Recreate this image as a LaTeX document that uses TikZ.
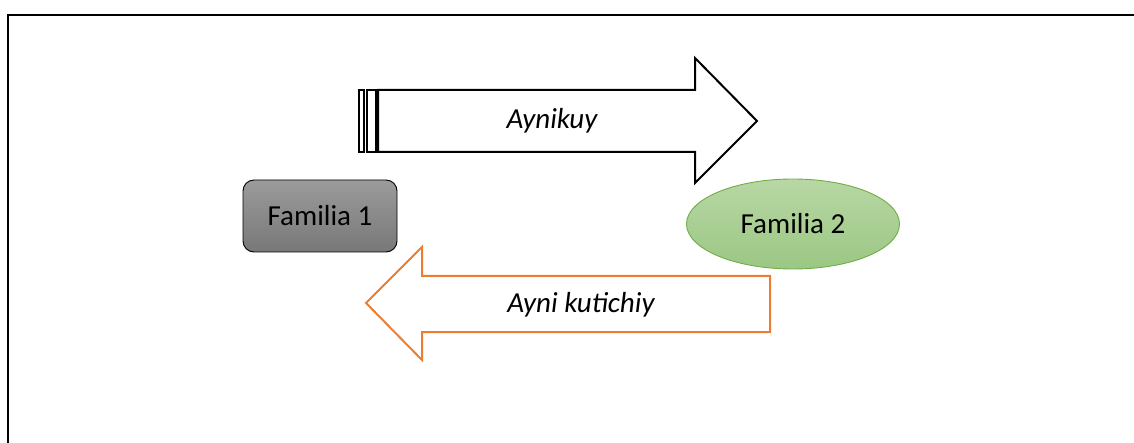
\documentclass[tikz,border=0pt]{standalone}
\usepackage{fontspec}
\setmainfont{Carlito}
\usetikzlibrary{shapes.geometric}
\definecolor{famgrayA}{HTML}{9B9B9B}
\definecolor{famgrayB}{HTML}{787878}
\definecolor{famgreenA}{HTML}{B8D7A4}
\definecolor{famgreenB}{HTML}{9BC784}
\definecolor{famgreenL}{HTML}{70AD47}
\definecolor{backorange}{HTML}{ED7D31}
\tikzset{
  label text/.style={font=\fontsize{29}{34}\selectfont, text=black, inner sep=0pt},
  arrow label/.style={label text, font=\fontsize{29}{34}\selectfont\itshape},
  outline/.style={line width=2pt, line join=miter},
}
\begin{document}
\begin{tikzpicture}[x=1pt,y=-1pt]
  \useasboundingbox (0,0) rectangle (1134,443);
  % frame (top and left edges)
  \draw[line width=2.4pt] (8,443) -- (8,15) -- (1134,15);

  % forward striped arrow
  \draw[outline, fill=white] (359,90) rectangle (364,152);
  \draw[outline, fill=white] (367,90) rectangle (376,152);
  \draw[outline, fill=white] (378,90) -- (695,90) -- (695,58) -- (757,121)
        -- (695,183) -- (695,152) -- (378,152) -- cycle;
  \node[arrow label] (fwd) at (552,121) {Aynikuy};

  % backward orange arrow
  \draw[outline, draw=backorange, fill=white] (770,276) -- (422,276) -- (422,247)
        -- (366,303) -- (422,360) -- (422,332) -- (770,332) -- cycle;
  \node[arrow label] (back) at (581,305) {Ayni kutichiy};

  % families
  \node[draw=black, line width=0.9pt, rounded corners=11pt,
        top color=famgrayA, bottom color=famgrayB,
        minimum width=154pt, minimum height=72pt, label text] (f1) at (320,216) {Familia 1};
  \node[ellipse, draw=famgreenL, line width=0.9pt,
        top color=famgreenA, bottom color=famgreenB,
        minimum width=213pt, minimum height=90pt, inner sep=0pt, label text] (f2) at (793,224) {Familia 2};
\end{tikzpicture}
\end{document}
